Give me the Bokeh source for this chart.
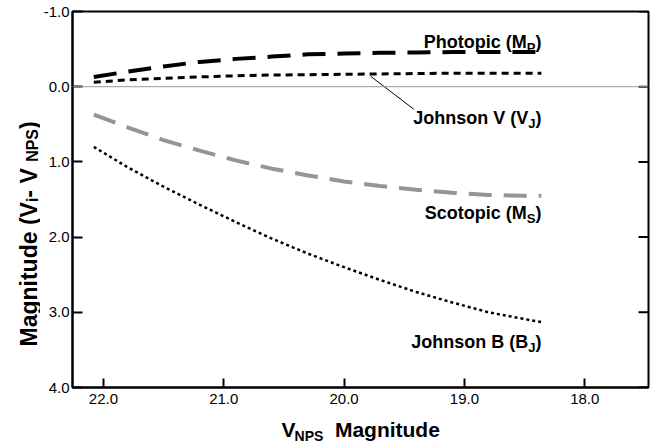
import math
from bokeh.plotting import figure
from bokeh.layouts import row, column
from bokeh.models import Range1d, FixedTicker, NumeralTickFormatter, Span, Label
from bokeh.core.properties import value
from bokeh.embed import file_html
from bokeh.resources import INLINE

# ---------------- data ----------------
vnps = [22.08, 21.8, 21.5, 21.2, 20.9, 20.6, 20.3, 20.0, 19.7, 19.4, 19.1, 18.8, 18.5, 18.36]
photopic = [-0.13, -0.20, -0.27, -0.33, -0.37, -0.40, -0.43, -0.44, -0.45, -0.455, -0.46, -0.46, -0.46, -0.46]
johnson_v = [-0.06, -0.09, -0.11, -0.13, -0.145, -0.155, -0.16, -0.165, -0.17, -0.175, -0.18, -0.18, -0.18, -0.18]
scotopic = [0.37, 0.54, 0.71, 0.85, 0.98, 1.09, 1.18, 1.26, 1.32, 1.37, 1.41, 1.44, 1.45, 1.45]
johnson_b = [0.80, 1.07, 1.33, 1.57, 1.80, 2.02, 2.22, 2.40, 2.57, 2.73, 2.87, 3.00, 3.09, 3.13]

x_ticks = [22.0, 21.0, 20.0, 19.0, 18.0]
y_ticks = [-1.0, 0.0, 1.0, 2.0, 3.0, 4.0]

# series labels: (main text, subscript, closing) and label baseline (data y)
label_photopic = ("Photopic (M", "P", ")")
label_johnson_v = ("Johnson V (V", "J", ")")
label_scotopic = ("Scotopic (M", "S", ")")
label_johnson_b = ("Johnson B (B", "J", ")")
label_y = [-0.59, 0.42, 1.68, 3.40]

# callout from the Johnson V curve to its label
callout_x = [19.78, 19.42]
callout_y = [-0.14, 0.30]

# axis titles: (text, font px, baseline drop px, extra gap before px)
xtitle = [("V", 21, 0, 0), ("NPS", 14, 6, 0), ("Magnitude", 21, 0, 14)]
ytitle = [("Magnitude (V", 23, 0, 0), ("i", 16, 4, 0), (" - V", 23, 0, 0), ("NPS", 16, 4, 0), (")", 23, 0, 0)]

# ---------------- helpers ----------------
W = {" ": 278, "(": 333, ")": 333, "-": 333, ".": 278, "B": 722, "J": 556, "M": 833, "N": 722,
     "P": 667, "S": 667, "V": 667, "a": 556, "c": 556, "d": 611, "e": 556, "g": 611, "h": 611,
     "i": 278, "n": 611, "o": 611, "p": 611, "s": 556, "t": 333, "u": 611}


def tw(s, size):
    return sum(W.get(c, 600) for c in s) * size / 1000.0


FONT = "Liberation Sans"


def rich_label(p, x, y, segs):
    """right-aligned multi-size text anchored at a data point (main plot)"""
    total = sum(tw(t, s) for t, s, _ in segs)
    off = -total
    for t, s, dy in segs:
        p.add_layout(Label(x=x, y=y, text=t, x_offset=off, y_offset=-dy,
                           text_font=FONT, text_font_style="bold",
                           text_font_size=f"{s}px", text_color="black",
                           text_align="left", text_baseline="alphabetic"))
        off += tw(t, s)


def text_canvas(w, h):
    f = figure(width=w, height=h, output_backend="svg", toolbar_location=None,
               x_range=Range1d(0, w), y_range=Range1d(0, h),
               x_axis_location=None, y_axis_location=None,
               min_border=0, min_border_left=0, min_border_right=0,
               min_border_top=0, min_border_bottom=0)
    f.grid.visible = False
    f.outline_line_color = None
    f.background_fill_color = "white"
    f.border_fill_color = "white"
    return f


def rich_text(f, x, y, segs, vertical=False):
    """pixel-positioned multi-size text on an auxiliary canvas (data units == pixels)"""
    off = 0.0
    for t, s, dy, gap in segs:
        off += gap
        if vertical:
            px, py, ang = x + dy, y + off, math.pi / 2
        else:
            px, py, ang = x + off, y - dy, 0.0
        f.text(x=[px], y=[py], text=[t], angle=ang,
               text_font=value(FONT), text_font_style="bold", text_font_size=f"{s}px",
               text_color="black", text_align="left", text_baseline="alphabetic")
        off += tw(t, s)


# ---------------- main figure ----------------
LEFT_W = 40
MAIN_W = 612
MAIN_H = 412
TOTAL_H = 446
p = figure(width=MAIN_W, height=MAIN_H, output_backend="svg", toolbar_location=None,
           x_range=Range1d(22.257, 17.47), y_range=Range1d(4.0, -1.0),
           min_border_left=70 - LEFT_W, min_border_right=4, min_border_top=11,
           min_border_bottom=MAIN_H - 387)
p.background_fill_color = "white"
p.border_fill_color = "white"
p.outline_line_color = "black"
p.outline_line_width = 2
p.xgrid.visible = False
p.ygrid.visible = False

for ax, tin in ((p.xaxis[0], 9), (p.yaxis[0], 10)):
    ax.major_tick_in = tin
    ax.major_tick_out = 0
    ax.minor_tick_line_color = None
    ax.axis_line_width = 2
    ax.major_tick_line_width = 2
    ax.major_label_text_font = FONT
    ax.major_label_text_font_size = "15px"
    ax.major_label_text_color = "black"
    ax.formatter = NumeralTickFormatter(format="0.0")

p.xaxis[0].ticker = FixedTicker(ticks=x_ticks)
p.yaxis[0].ticker = FixedTicker(ticks=y_ticks)
p.xaxis[0].major_label_standoff = 6
p.yaxis[0].major_label_standoff = 3

# inward ticks on the right frame edge
tick_len = 10 / 120.75
p.segment(x0=[p.x_range.end] * len(y_ticks), y0=y_ticks,
          x1=[p.x_range.end + tick_len] * len(y_ticks), y1=y_ticks,
          line_color="black", line_width=2)

p.add_layout(Span(location=0.0, dimension="width", line_color="#999999", line_width=1))

# curves
p.line(vnps, photopic, line_color="black", line_width=4, line_dash="23 12", line_cap="butt")
p.line(vnps, johnson_v, line_color="black", line_width=3, line_dash="7 5", line_cap="butt")
p.line(vnps, scotopic, line_color="#959595", line_width=4, line_dash="23 12", line_cap="butt")
p.line(vnps, johnson_b, line_color="black", line_width=2.5, line_dash="3 3", line_cap="butt")

p.segment(x0=[callout_x[0]], y0=[callout_y[0]], x1=[callout_x[1]], y1=[callout_y[1]],
          line_color="black", line_width=1)

for (main, sub, close), ly in zip([label_photopic, label_johnson_v, label_scotopic, label_johnson_b], label_y):
    rich_label(p, vnps[-1], ly, [(main, 18, 0), (sub, 13, 5), (close, 18, 0)])

# ---------------- axis-title canvases ----------------
ycan = text_canvas(LEFT_W, TOTAL_H)
rich_text(ycan, 28, TOTAL_H - 346, ytitle, vertical=True)

XCAN_H = TOTAL_H - MAIN_H
xcan = text_canvas(MAIN_W, XCAN_H)
rich_text(xcan, 262 - LEFT_W, TOTAL_H - 429, xtitle)

layout = row(ycan, column(p, xcan, spacing=0), spacing=0)

open("out.html", "w").write(file_html(layout, INLINE))
